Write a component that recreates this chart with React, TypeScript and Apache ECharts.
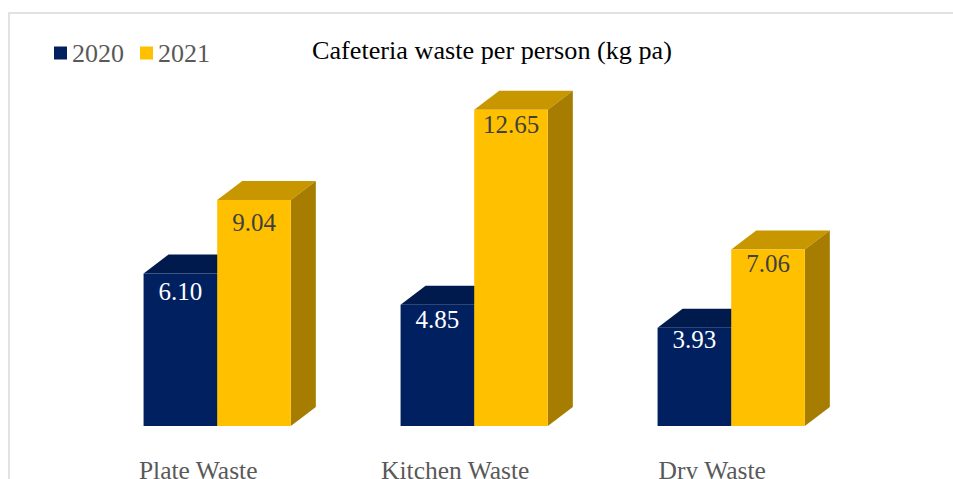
import React, { useEffect, useRef } from "react";
import * as echarts from "echarts";

const categories = ["Plate Waste", "Kitchen Waste", "Dry Waste"];
const values2020 = [6.1, 4.85, 3.93];
const values2021 = [9.04, 12.65, 7.06];

const FONT = '"Liberation Serif", serif';
const BAR_FRACTION = 0.2865;
const DEPTH_X = 25;
const DEPTH_Y = 19;

function bar3d(
  side: -1 | 1,
  front: string,
  top: string,
  right: string,
  labelColor: string,
  labelDrop: number[]
) {
  return (params: any, api: any) => {
    const cat = api.value(0);
    const val = api.value(1);
    const [cx, yTop] = api.coord([cat, val]);
    const [, yBase] = api.coord([cat, 0]);
    const w = api.size([1, 0])[0] * BAR_FRACTION;
    const x0 = side < 0 ? cx - w : cx;
    const x1 = x0 + w;
    return {
      type: "group",
      children: [
        {
          type: "polygon",
          shape: { points: [[x0, yTop], [x1, yTop], [x1 + DEPTH_X, yTop - DEPTH_Y], [x0 + DEPTH_X, yTop - DEPTH_Y]] },
          style: { fill: top },
        },
        {
          type: "polygon",
          shape: { points: [[x1, yTop], [x1 + DEPTH_X, yTop - DEPTH_Y], [x1 + DEPTH_X, yBase - DEPTH_Y], [x1, yBase]] },
          style: { fill: right },
        },
        {
          type: "rect",
          shape: { x: x0, y: yTop, width: w, height: yBase - yTop },
          style: { fill: front },
        },
        {
          type: "text",
          x: (x0 + x1) / 2,
          y: yTop + labelDrop[params.dataIndex],
          style: {
            text: val.toFixed(2),
            fill: labelColor,
            font: `25px ${FONT}`,
            align: "center",
            verticalAlign: "middle",
          },
        },
      ],
    };
  };
}

export default function App() {
  const ref = useRef<HTMLDivElement>(null);
  useEffect(() => {
    document.body.style.margin = "0";
    const chart = echarts.init(ref.current!, undefined, { renderer: "svg" });
    chart.setOption({
      animation: false,
      backgroundColor: "#ffffff",
      title: {
        text: "Cafeteria waste per person (kg pa)",
        left: 307,
        top: 32,
        textStyle: { fontFamily: FONT, fontSize: 26.2, fontWeight: "normal", color: "#000000" },
      },
      legend: {
        left: 54,
        top: 40,
        padding: 0,
        icon: "rect",
        itemWidth: 13,
        itemHeight: 13,
        itemGap: 16,
        textStyle: { fontFamily: FONT, fontSize: 26, color: "#595959" },
        data: ["2020", "2021"],
      },
      grid: { left: 88.7, width: 771, top: 76, height: 350, outerBoundsMode: "none" },
      xAxis: {
        type: "category",
        data: categories,
        axisLine: { show: false },
        axisTick: { show: false },
        axisLabel: {
          fontFamily: FONT,
          fontSize: 25.5,
          color: "#595959",
          margin: 31,
          padding: [0, 38, 0, 0],
          interval: 0,
        },
      },
      yAxis: { type: "value", min: 0, max: 14, show: false },
      graphic: [
        {
          type: "polyline",
          silent: true,
          shape: { points: [[9, 479], [9, 13], [953, 13]] },
          style: { stroke: "#d9d9d9", lineWidth: 1.5, fill: "none" },
        },
      ],
      series: [
        {
          type: "custom",
          name: "2020",
          itemStyle: { color: "#002060" },
          clip: false,
          encode: { x: 0, y: 1 },
          data: values2020.map((v, i) => [i, v]),
          renderItem: bar3d(-1, "#002060", "#001a4d", "#001a4d", "#ffffff", [18, 15, 12]),
        },
        {
          type: "custom",
          name: "2021",
          itemStyle: { color: "#ffc000" },
          clip: false,
          encode: { x: 0, y: 1 },
          data: values2021.map((v, i) => [i, v]),
          renderItem: bar3d(1, "#ffc000", "#c89700", "#a67d00", "#404040", [22, 15, 14]),
        },
      ],
    });
    return () => chart.dispose();
  }, []);
  return <div ref={ref} style={{ width: 953, height: 479, overflow: "hidden" }} />;
}
